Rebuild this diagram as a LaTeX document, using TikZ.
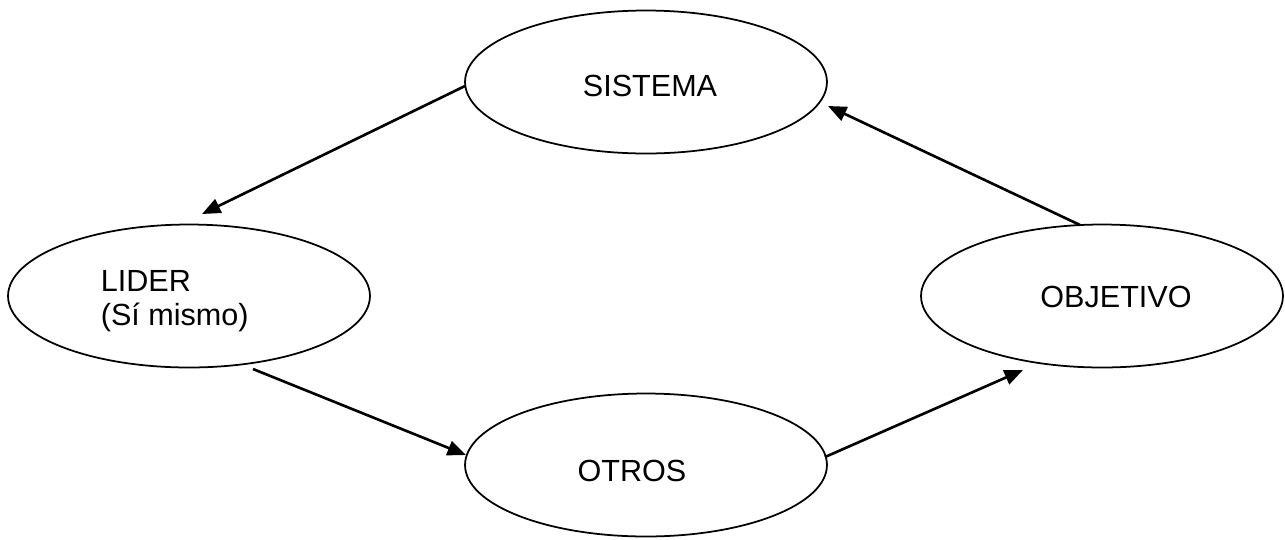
\documentclass[tikz,border=0pt]{standalone}
\usepackage{fontspec}
\setmainfont{Liberation Sans}
\usetikzlibrary{shapes.geometric,arrows.meta,calc}
\begin{document}
\begin{tikzpicture}[x=0.02cm,y=-0.02cm,
  oval/.style={draw,ellipse,line width=1pt,inner sep=0pt,minimum width=7.24cm,minimum height=2.86cm},
  lbl/.style={inner sep=0pt,font=\fontsize{17.4pt}{20pt}\selectfont},
  conn/.style={line width=1.5pt,-{Triangle[length=10.5pt,width=8.5pt]}}]
\useasboundingbox (0,0) rectangle (1285,539);
\node[oval] (sis) at (646,82) {};
\node[oval] (lid) at (189,296) {};
\node[oval] (obj) at (1102,296) {};
\node[oval] (otr) at (646,465) {};
\node[lbl,anchor=base] (tsis) at (650,96.7) {SISTEMA};
\node[lbl,anchor=base west] (tlid1) at (100.5,291.7) {LIDER};
\node[lbl,anchor=base west] (tlid2) at (100.5,325) {(Sí mismo)};
\node[lbl,anchor=base] (tobj) at (1116,307) {OBJETIVO};
\node[lbl,anchor=base] (totr) at (632,481) {OTROS};
\coordinate (a1s) at ($(sis.center)+(-181,4)$);
\coordinate (a1e) at ($(lid.center)+(13,-82)$);
\coordinate (a2s) at ($(lid.center)+(64,73)$);
\coordinate (a2e) at ($(otr.center)+(-180,-10)$);
\coordinate (a3s) at ($(otr.center)+(179,-8)$);
\coordinate (a3e) at ($(obj.center)+(-79,74)$);
\coordinate (a4s) at ($(obj.center)+(-22,-71)$);
\coordinate (a4e) at ($(sis.center)+(182,24)$);
\draw[conn] (a1s) -- (a1e);
\draw[conn] (a2s) -- (a2e);
\draw[conn] (a3s) -- (a3e);
\draw[conn] (a4s) -- (a4e);
\end{tikzpicture}
\end{document}
